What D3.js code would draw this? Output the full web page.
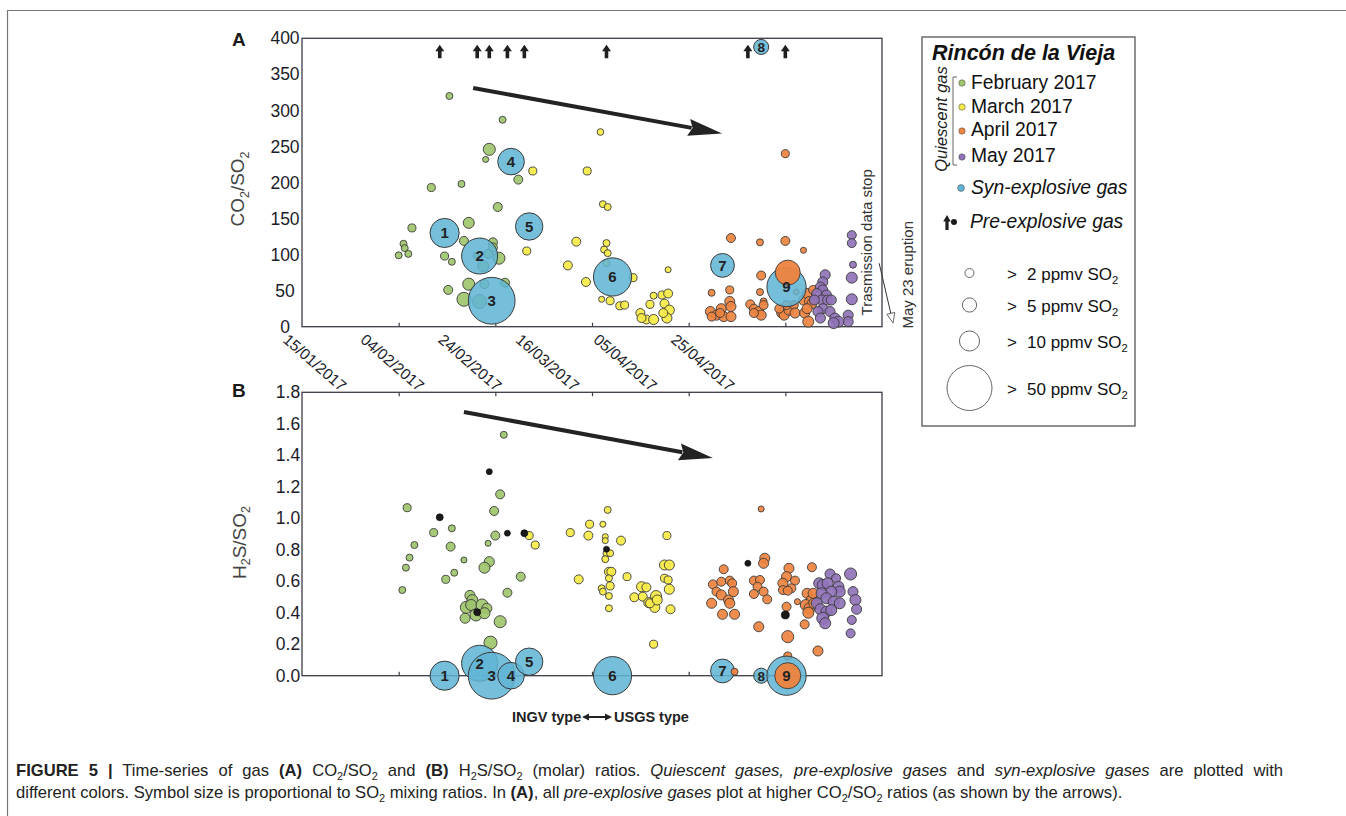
<!DOCTYPE html>
<html>
<head>
<meta charset="utf-8">
<script src="https://cdn.jsdelivr.net/npm/d3@7"></script>
<style>
  body { margin: 0; background: #fff; }
  text { font-family: "Liberation Sans", Arial, sans-serif; white-space: pre; }
</style>
</head>
<body>
<div id="wrapper"></div>
<script>
// ---------- DATA ----------
// quiescent samples: [date, ratio, SO2 ppmv]
const febA = [
  ["2017-02-14 12",320,1.2],["2017-02-25 12",287,1.2],["2017-02-22 18",246,3.6],["2017-02-22 00",232,0.9],
  ["2017-02-28 18",204,2],["2017-02-10 18",193,1.6],["2017-02-17 00",198,1.2],["2017-02-24 12",166,2],
  ["2017-02-06 18",137,1.6],["2017-02-18 12",144,3],["2017-02-17 12",119,2],["2017-02-23 12",117,2],
  ["2017-02-23 12",110,2],["2017-02-05 00",115,1.2],["2017-02-05 06",109,1.2],["2017-02-04 00",99,1.2],
  ["2017-02-06 00",101,1.2],["2017-02-13 12",98,1.6],["2017-02-15 00",90,1.2],["2017-02-22 12",101,2],
  ["2017-02-24 18",95,3.6],["2017-02-21 12",84,3],["2017-02-20 00",99,0.9],["2017-02-18 12",59,3.6],
  ["2017-02-14 06",51,2],["2017-02-26 00",61,2],["2017-02-21 18",59,2],["2017-02-17 12",38,4.8],
  ["2017-02-20 18",35,4.8]
]
const marA = [
  ["2017-03-03 18",216,1.6],["2017-03-02 12",105,1.6],["2017-03-17 18",270,1.1],["2017-03-15 00",216,1.6],
  ["2017-03-18 06",170,1.2],["2017-03-19 06",166,1.2],["2017-03-12 18",118,2],["2017-03-19 00",116,1.2],
  ["2017-03-18 12",107,1.2],["2017-03-19 06",102,1.2],["2017-03-11 00",85,2],["2017-03-14 18",62,2],
  ["2017-03-24 12",68,1.6],["2017-03-19 00",88,1.2],["2017-03-18 00",38,0.9],["2017-03-19 18",36,1.6],
  ["2017-03-21 18",29,1.6],["2017-03-22 18",30,1.6],["2017-03-31 18",79,0.9],["2017-03-26 00",19,2],
  ["2017-03-27 06",10,2],["2017-03-28 18",10,2.5],["2017-03-26 06",12,2],["2017-03-28 00",31,1.6],
  ["2017-03-28 18",43,1.2],["2017-03-30 12",44,1.6],["2017-03-31 18",46,2],["2017-03-31 00",32,2],
  ["2017-04-01 00",23,2.5],["2017-03-31 12",12,2.5],["2017-03-30 18",19,2]
]
const aprA = [
  ["2017-04-25 00",240,1.6],["2017-04-13 18",123,2],["2017-04-19 18",117,1.2],["2017-04-25 00",119,2],
  ["2017-04-28 18",106,0.9],["2017-04-20 00",71,2],["2017-04-13 12",51,1.6],["2017-04-09 18",47,1.2],
  ["2017-04-19 18",48,1.2],["2017-04-20 12",35,1.2],["2017-04-27 06",48,0.9],
  ["2017-04-09 12",21,2.5],["2017-04-10 18",16,2.5],["2017-04-11 18",25,2.5],["2017-04-13 12",35,2.5],
  ["2017-04-13 18",28,2.5],["2017-04-12 06",14,2.5],["2017-04-13 18",14,2.5],["2017-04-09 18",14,2],
  ["2017-04-11 12",19,2],
  ["2017-04-17 18",31,2],["2017-04-18 12",25,2],["2017-04-19 12",21,2.5],["2017-04-20 00",16,2.5],
  ["2017-04-18 12",19,2],["2017-04-20 12",30,2],
  ["2017-04-24 06",19,2.5],["2017-04-24 18",16,2.5],["2017-04-25 18",23,2.5],["2017-04-26 18",30,2],
  ["2017-04-27 00",19,2.5],["2017-04-25 06",30,2],["2017-04-23 18",25,2],
  ["2017-04-28 18",37,2.5],["2017-04-29 12",46,2.5],["2017-04-30 00",35,2.5],["2017-04-29 00",19,2.5],
  ["2017-04-29 18",7,3],["2017-04-30 18",51,2],["2017-04-30 12",32,2.5],["2017-04-29 12",25,2.5]
]
const mayA = [
  ["2017-05-08 18",127,2],["2017-05-08 18",116,2],["2017-05-09 00",86,1.2],["2017-05-08 18",68,3],
  ["2017-05-08 18",38,3],["2017-05-08 00",16,2.5],["2017-05-08 00",7,2.5],["2017-05-03 06",72,2.5],
  ["2017-05-02 18",62,2.5],["2017-05-02 06",55,2.5],["2017-05-02 18",51,2.5],["2017-05-03 12",44,2.5],
  ["2017-05-01 12",46,2.5],["2017-05-02 12",37,2.5],["2017-05-03 18",37,2.5],["2017-05-04 12",37,2.5],
  ["2017-05-02 18",25,2.5],["2017-05-04 06",21,2.5],["2017-05-05 06",12,2.5],["2017-05-06 00",7,3],
  ["2017-05-05 00",5,3],["2017-05-01 18",21,2.5],["2017-05-02 06",12,2.5],["2017-05-01 00",37,2.5]
]
const febB = [
  ["2017-02-25 18",1.53,1.2],["2017-02-05 18",1.067,1.6],["2017-02-25 00",1.152,2],["2017-02-23 18",1.046,2],
  ["2017-02-11 06",0.909,1.6],["2017-02-15 00",0.936,1.2],["2017-02-24 00",0.89,2],["2017-02-07 06",0.83,1.2],
  ["2017-02-14 18",0.82,2],["2017-02-22 12",0.841,0.9],["2017-02-06 06",0.75,1.2],["2017-02-17 12",0.735,0.9],
  ["2017-02-05 12",0.686,1.2],["2017-02-22 18",0.724,2.5],["2017-02-21 18",0.686,3],["2017-02-15 12",0.654,1.2],
  ["2017-02-13 18",0.612,1.6],["2017-03-01 06",0.629,2],["2017-02-04 18",0.544,1.2],["2017-02-26 12",0.527,2],
  ["2017-02-18 18",0.51,2.5],["2017-02-19 06",0.48,3],["2017-02-18 00",0.434,3.6],["2017-02-19 00",0.449,3],
  ["2017-02-21 06",0.449,3.6],["2017-02-22 06",0.428,2.5],["2017-02-20 00",0.386,3.6],["2017-02-17 18",0.365,2.5],
  ["2017-02-21 18",0.397,3],["2017-02-25 00",0.343,3.6],["2017-02-23 00",0.21,4.2]
]
const marB = [
  ["2017-03-03 00",0.89,1.6],["2017-03-04 06",0.83,1.6],["2017-03-19 06",1.053,1.2],["2017-03-15 12",0.962,1.6],
  ["2017-03-18 06",0.962,0.9],["2017-03-11 12",0.909,1.6],["2017-03-15 06",0.89,2],["2017-03-18 18",0.883,0.9],
  ["2017-03-18 18",0.858,0.9],["2017-03-22 00",0.858,2],["2017-03-31 12",0.89,1.6],["2017-03-19 00",0.778,1.2],
  ["2017-03-19 18",0.778,1.2],["2017-03-18 18",0.74,1.2],["2017-03-19 12",0.66,2],["2017-03-20 00",0.66,2],
  ["2017-03-23 06",0.629,1.6],["2017-03-13 06",0.612,2],["2017-03-19 12",0.619,1.2],["2017-03-31 00",0.703,2.5],
  ["2017-04-01 00",0.703,2.5],["2017-03-31 00",0.619,1.6],["2017-03-31 18",0.608,1.6],["2017-04-01 00",0.549,2.5],
  ["2017-03-18 00",0.555,1.2],["2017-03-19 18",0.57,1.6],["2017-03-18 06",0.534,1.2],["2017-03-19 12",0.506,1.2],
  ["2017-03-26 06",0.565,2.5],["2017-03-27 06",0.561,2],["2017-03-24 18",0.498,2],["2017-03-26 12",0.502,2],
  ["2017-03-27 18",0.464,2.5],["2017-03-29 06",0.506,3],["2017-03-29 00",0.434,2.5],["2017-03-28 00",0.46,2],
  ["2017-03-29 12",0.481,2.5],["2017-03-19 12",0.428,1.2],["2017-04-01 06",0.422,2],["2017-03-28 18",0.2,1.6]
]
const aprB = [
  ["2017-04-20 00",1.059,0.9],["2017-04-20 18",0.746,2.5],["2017-04-20 12",0.714,2.5],["2017-04-12 06",0.676,2],
  ["2017-04-10 00",0.58,2],["2017-04-11 18",0.597,2],["2017-04-13 12",0.604,2],["2017-04-14 00",0.587,2],
  ["2017-04-10 18",0.534,2],["2017-04-09 18",0.46,2.5],["2017-04-11 18",0.513,2.5],["2017-04-13 06",0.481,2.5],
  ["2017-04-14 06",0.534,2.5],["2017-04-13 12",0.46,2.5],["2017-04-12 00",0.39,2.5],["2017-04-14 12",0.39,2.5],
  ["2017-04-18 12",0.604,2],["2017-04-19 18",0.608,2],["2017-04-19 06",0.565,2],["2017-04-18 12",0.519,2],
  ["2017-04-20 12",0.534,2],["2017-04-21 06",0.485,2],["2017-04-19 12",0.311,2.5],
  ["2017-04-25 18",0.682,2.5],["2017-04-25 06",0.629,2.5],["2017-04-27 00",0.604,2],["2017-04-24 12",0.587,2.5],
  ["2017-04-26 06",0.555,2],["2017-04-24 12",0.544,2],["2017-04-25 12",0.54,2],["2017-04-30 12",0.689,2],
  ["2017-04-25 06",0.438,2],["2017-04-25 12",0.248,3.6],["2017-04-27 12",0.47,0.9],["2017-04-29 00",0.326,2],
  ["2017-05-01 18",0.157,2.5],["2017-04-29 12",0.523,2.5],["2017-04-30 12",0.481,3],["2017-04-29 06",0.449,3],
  ["2017-04-30 00",0.428,3],["2017-05-01 00",0.46,3],["2017-04-30 18",0.523,2.5],["2017-04-29 18",0.4,3],
  ["2017-04-25 12",0.125,1.6]
]
const mayB = [
  ["2017-05-08 12",0.646,3.6],["2017-05-04 06",0.646,2.5],["2017-05-05 12",0.619,2],["2017-05-02 00",0.587,3],
  ["2017-05-02 18",0.576,3],["2017-05-03 18",0.587,3],["2017-05-06 00",0.565,3],["2017-05-06 06",0.534,3],
  ["2017-05-04 12",0.534,3],["2017-05-02 12",0.523,3],["2017-05-03 12",0.492,3],["2017-05-05 00",0.47,3],
  ["2017-05-06 06",0.46,3],["2017-05-01 12",0.46,3],["2017-05-02 06",0.422,3],["2017-05-03 12",0.407,3],
  ["2017-05-04 12",0.417,3],["2017-05-02 18",0.365,3.6],["2017-05-03 06",0.333,3],["2017-05-09 00",0.534,2.5],
  ["2017-05-09 12",0.481,3],["2017-05-09 18",0.422,2.5],["2017-05-08 18",0.354,2],["2017-05-08 12",0.269,2]
]
// April samples taken with syn-explosive events (plotted above the blue symbols)
const aprSynA = [["2017-04-25 12",75,15.4]]
const aprSynB = [["2017-04-25 12",0,16.7],["2017-04-14 12",0.025,1.2]]

// syn-explosive gas (numbered events)
const synLabels = ["1","2","3","4","5","6","7","8","9"]
const synDates = ["2017-02-13 12","2017-02-20 18","2017-02-23 06","2017-02-27 06","2017-03-03 00",
                  "2017-03-20 06","2017-04-12 00","2017-04-20 00","2017-04-25 06"]
const synCO2 = [130, 98, 36, 229, 139, 69, 85, 388, 55]
const synH2S = [0, 0.079, 0, 0, 0.089, 0, 0.03, 0, 0]
const synSO2 = [21, 32, 54, 17.5, 18.5, 36, 14, 5.6, 38]

// pre-explosive gas (CO2/SO2 above 400 -> arrows in A)
const preDates = ["2017-02-12 12","2017-02-20 06","2017-02-22 18","2017-02-26 12","2017-03-02 00",
                  "2017-03-19 00","2017-04-17 06","2017-04-25 00"]
const preH2S = [1.006, 0.403, 1.296, 0.905, 0.905, 0.803, 0.714, 0.386]
const preSO2 = [1.2, 1.2, 0.9, 0.9, 1.2, 0.9, 0.9, 1.6]

// trend arrows [start, end] as [date, ratio]
const trendA = [["2017-02-19 10",331],["2017-04-11 22",268]]
const trendB = [["2017-02-17 12",1.675],["2017-04-10 00",1.383]]

const xTickLabels = ["15/01/2017","04/02/2017","24/02/2017","16/03/2017","05/04/2017","25/04/2017"]
const yTicksA = [0,50,100,150,200,250,300,350,400]
const yTicksB = [0,0.2,0.4,0.6,0.8,1.0,1.2,1.4,1.6,1.8]
const monthNames = ["February 2017","March 2017","April 2017","May 2017"]
const sizeLegend = [2,5,10,50]

// ---------- SETUP ----------
const parseTime = d3.timeParse("%Y-%m-%d %H")
const parseTick = d3.timeParse("%d/%m/%Y")

const dimensions = { width: 1346, height: 816 }
const plot = { left: 302, right: 882 }
const panelA = { top: 38.3, bottom: 326.7 }
const panelB = { top: 392.3, bottom: 675.7 }

const colors = {
  feb: "#9fc66c", mar: "#f7ea47", apr: "#ee8340", may: "#9073b8",
  syn: "#60b5d5", pre: "#1a1a1a", stroke: "#3a3a3a", axis: "#3c3c46", tick: "#1c1c2a"
}

const wrapper = d3.select("#wrapper").append("svg")
  .attr("width", dimensions.width)
  .attr("height", dimensions.height)

const xScale = d3.scaleTime()
  .domain([parseTime("2017-01-15 00"), parseTime("2017-05-15 00")])
  .range([plot.left, plot.right])
// tick labels of A are set on a compressed spacing in the original
const xLabelScale = d3.scaleTime()
  .domain(xScale.domain())
  .range([plot.left - 13, plot.left - 13 + 120 * 3.88])

const yA = d3.scaleLinear().domain([0, 400]).range([panelA.bottom, panelA.top])
const yB = d3.scaleLinear().domain([0, 1.8]).range([panelB.bottom, panelB.top])
const rScale = d3.scaleSqrt().domain([0, 50]).range([0, 22.5])

const xTicks = xTickLabels.map(parseTick)

// rich text helper: parts = [text, style]
function rich(sel, parts, f) {
  let shifted = 0
  parts.forEach(([t, s]) => {
    const ts = sel.append("tspan").text(t)
    if (s === "b") ts.attr("font-weight", "bold")
    if (s === "i") ts.attr("font-style", "italic")
    if (s === "sub") {
      ts.attr("font-size", f * 0.66).attr("dy", f * 0.26)
      shifted = f * 0.26
    } else if (shifted) {
      ts.attr("dy", -shifted)
      shifted = 0
    }
  })
  return sel
}

// ---------- FIGURE FRAME ----------
wrapper.append("line").attr("x1", 7).attr("x2", dimensions.width).attr("y1", 10.5).attr("y2", 10.5)
  .attr("stroke", "#777").attr("stroke-width", 1.2)
wrapper.append("line").attr("x1", 7.5).attr("x2", 7.5).attr("y1", 10).attr("y2", dimensions.height)
  .attr("stroke", "#777").attr("stroke-width", 1.2)

// ---------- PANELS ----------
function drawFrame(panel, yScale, ticks, fmt, labelX, topTicks) {
  const g = wrapper.append("g")
  g.append("rect")
    .attr("x", plot.left).attr("y", panel.top)
    .attr("width", plot.right - plot.left).attr("height", panel.bottom - panel.top)
    .attr("fill", "none").attr("stroke", colors.axis).attr("stroke-width", 1.3)

  const xb = g.append("g").attr("transform", `translate(0,${panel.bottom})`)
    .call(d3.axisBottom(xScale).tickValues(xTicks.slice(1)).tickSizeInner(-4).tickSizeOuter(0).tickFormat(""))
  xb.select(".domain").remove()
  xb.selectAll("line").attr("stroke", colors.axis).attr("stroke-width", 1.2)

  if (topTicks) {
    const xt = g.append("g").attr("transform", `translate(0,${panel.top})`)
      .call(d3.axisTop(xScale).tickValues(xTicks.slice(1)).tickSizeInner(-4).tickSizeOuter(0).tickFormat(""))
    xt.select(".domain").remove()
    xt.selectAll("line").attr("stroke", colors.axis).attr("stroke-width", 1.2)
  }

  const ya = g.append("g").attr("transform", `translate(${plot.left},0)`)
    .call(d3.axisLeft(yScale).tickValues(ticks).tickSize(0).tickFormat(fmt))
  ya.select(".domain").remove()
  ya.selectAll("text")
    .attr("x", labelX - plot.left).attr("text-anchor", "middle")
    .attr("font-size", 17.5).attr("font-family", "Liberation Sans, Arial, sans-serif")
    .attr("fill", colors.tick)
  return g
}

function drawPoints(g, data, yScale, color, opacity = 0.92) {
  g.append("g").selectAll("circle").data(data).join("circle")
    .attr("cx", d => xScale(parseTime(d[0])))
    .attr("cy", d => yScale(d[1]))
    .attr("r", d => rScale(d[2]))
    .attr("fill", color).attr("fill-opacity", opacity)
    .attr("stroke", colors.stroke).attr("stroke-width", 0.9)
}

const synData = synLabels.map((l, i) => ({
  label: l, date: parseTime(synDates[i]), co2: synCO2[i], h2s: synH2S[i], so2: synSO2[i]
}))

function drawSyn(g, yScale, key) {
  g.append("g").selectAll("circle").data(synData).join("circle")
    .attr("cx", d => xScale(d.date))
    .attr("cy", d => yScale(d[key]))
    .attr("r", d => rScale(d.so2))
    .attr("fill", colors.syn).attr("fill-opacity", 0.86)
    .attr("stroke", colors.stroke).attr("stroke-width", 1)
}

function drawSynLabels(g, yScale, key) {
  g.append("g").selectAll("text").data(synData).join("text")
    .attr("x", d => xScale(d.date))
    .attr("y", d => yScale(d[key]))
    .attr("dy", "0.36em")
    .attr("text-anchor", "middle")
    .attr("font-size", d => Math.min(15, rScale(d.so2) * 1.8))
    .attr("font-weight", "bold")
    .attr("fill", "#222")
    .text(d => d.label)
}

function trendArrow(g, pts, yScale) {
  const x0 = xScale(parseTime(pts[0][0])), y0 = yScale(pts[0][1])
  const x1 = xScale(parseTime(pts[1][0])), y1 = yScale(pts[1][1])
  const a = Math.atan2(y1 - y0, x1 - x0)
  const headLen = 34, headW = 8.5
  const bx = x1 - headLen * Math.cos(a), by = y1 - headLen * Math.sin(a)
  g.append("line").attr("x1", x0).attr("y1", y0)
    .attr("x2", bx + 3 * Math.cos(a)).attr("y2", by + 3 * Math.sin(a))
    .attr("stroke", "#232323").attr("stroke-width", 4)
  g.append("path")
    .attr("d", `M${x1},${y1}L${bx - headW * Math.sin(a)},${by + headW * Math.cos(a)}` +
               `L${bx + 4 * Math.cos(a)},${by + 4 * Math.sin(a)}` +
               `L${bx + headW * Math.sin(a)},${by - headW * Math.cos(a)}Z`)
    .attr("fill", "#232323")
}

function upArrow(g, x, t, w = 4.5, h = 13.5, s = 1.8) {
  g.append("path")
    .attr("d", `M${x},${t}L${x - w},${t + 6.5}L${x - s},${t + 6.5}L${x - s},${t + h}` +
               `L${x + s},${t + h}L${x + s},${t + 6.5}L${x + w},${t + 6.5}Z`)
    .attr("fill", "#1f1f1f")
}

// ----- Panel A -----
const gA = drawFrame(panelA, yA, yTicksA, d3.format("d"), 285, false)
drawPoints(gA, febA, yA, colors.feb)
drawPoints(gA, marA, yA, colors.mar)
drawPoints(gA, aprA, yA, colors.apr)
drawPoints(gA, mayA, yA, colors.may)
drawSyn(gA, yA, "co2")
drawPoints(gA, aprSynA, yA, colors.apr, 0.95)
drawSynLabels(gA, yA, "co2")
preDates.forEach(d => upArrow(gA, xScale(parseTime(d)), yA(400) + 6.5))
trendArrow(gA, trendA, yA)

// rotated date labels under A
gA.append("g").selectAll("text").data(xTicks).join("text")
  .attr("transform", d => `translate(${xLabelScale(d) - 7},${panelA.bottom + 14.5}) rotate(41)`)
  .attr("font-size", 15.5).attr("fill", colors.tick)
  .text((d, i) => xTickLabels[i])

// axis title A
rich(gA.append("text")
  .attr("transform", `translate(244,189) rotate(-90)`)
  .attr("text-anchor", "middle").attr("font-size", 19).attr("fill", "#444"),
  [["CO"],["2","sub"],["/SO"],["2","sub"]], 19)

gA.append("text").attr("x", 232).attr("y", 46).attr("font-size", 19)
  .attr("font-weight", "bold").attr("fill", "#1a1a1a").text("A")

// transmission stop / eruption annotation
gA.append("text")
  .attr("transform", `translate(${xScale(parseTime("2017-05-13 00"))},${yA(117)}) rotate(-90)`)
  .attr("text-anchor", "middle").attr("font-size", 15).attr("fill", "#333")
  .text("Trasmission data stop")
{
  const x0 = xScale(parseTime("2017-05-14 10")), y0 = yA(88)
  const x1 = xScale(parseTime("2017-05-17 07")), y1 = yA(5)
  const a = Math.atan2(y1 - y0, x1 - x0)
  const hl = 10, hw = 4
  const bx = x1 - hl * Math.cos(a), by = y1 - hl * Math.sin(a)
  gA.append("line").attr("x1", x0).attr("y1", y0).attr("x2", bx).attr("y2", by)
    .attr("stroke", "#333").attr("stroke-width", 1)
  gA.append("path")
    .attr("d", `M${x1},${y1}L${bx - hw * Math.sin(a)},${by + hw * Math.cos(a)}L${bx + hw * Math.sin(a)},${by - hw * Math.cos(a)}Z`)
    .attr("fill", "#fff").attr("stroke", "#555").attr("stroke-width", 0.9)
}
gA.append("text")
  .attr("transform", `translate(${xScale(parseTime("2017-05-21 10"))},${yA(72)}) rotate(-90)`)
  .attr("text-anchor", "middle").attr("font-size", 15).attr("fill", "#333")
  .text("May 23 eruption")

// ----- Panel B -----
const gB = drawFrame(panelB, yB, yTicksB, d3.format(".1f"), 288, true)
drawPoints(gB, febB, yB, colors.feb)
drawPoints(gB, marB, yB, colors.mar)
drawPoints(gB, aprB, yB, colors.apr)
drawPoints(gB, mayB, yB, colors.may)
gB.append("g").selectAll("circle").data(preDates).join("circle")
  .attr("cx", d => xScale(parseTime(d)))
  .attr("cy", (d, i) => yB(preH2S[i]))
  .attr("r", (d, i) => rScale(preSO2[i]))
  .attr("fill", colors.pre).attr("stroke", "#000").attr("stroke-width", 0.6)
drawSyn(gB, yB, "h2s")
drawPoints(gB, aprSynB, yB, colors.apr, 0.95)
drawSynLabels(gB, yB, "h2s")
trendArrow(gB, trendB, yB)

rich(gB.append("text")
  .attr("transform", `translate(245.5,542.5) rotate(-90)`)
  .attr("text-anchor", "middle").attr("font-size", 19).attr("fill", "#444"),
  [["H"],["2","sub"],["S/SO"],["2","sub"]], 19)

gB.append("text").attr("x", 232).attr("y", 397).attr("font-size", 19)
  .attr("font-weight", "bold").attr("fill", "#1a1a1a").text("B")

// INGV / USGS note
gB.append("text").attr("x", 512).attr("y", 722).attr("font-size", 14.5)
  .attr("font-weight", "bold").attr("fill", "#222").text("INGV type")
gB.append("text").attr("x", 614).attr("y", 722).attr("font-size", 14.5)
  .attr("font-weight", "bold").attr("fill", "#222").text("USGS type")
gB.append("path")
  .attr("d", "M582,717 L589,713.5 L589,716 L605,716 L605,713.5 L612,717 L605,720.5 L605,718 L589,718 L589,720.5 Z")
  .attr("fill", "#222")

// ---------- LEGEND ----------
const legend = { x: 922, y: 37, w: 213, h: 389 }
const lg = wrapper.append("g").attr("transform", `translate(${legend.x},${legend.y})`)
lg.append("rect").attr("width", legend.w).attr("height", legend.h)
  .attr("fill", "#fff").attr("stroke", "#555").attr("stroke-width", 1.3)
lg.append("text").attr("x", 10).attr("y", 23).attr("font-size", 21.5)
  .attr("font-weight", "bold").attr("font-style", "italic").attr("fill", "#111")
  .text("Rincón de la Vieja")

const monthColors = [colors.feb, colors.mar, colors.apr, colors.may]
const monthDotY = [46, 70, 94, 120]
const monthTextY = [52, 76, 99, 125]
monthNames.forEach((m, i) => {
  lg.append("circle").attr("cx", 40).attr("cy", monthDotY[i]).attr("r", 3.2)
    .attr("fill", monthColors[i]).attr("stroke", "#555").attr("stroke-width", 0.6)
  lg.append("text").attr("x", 49).attr("y", monthTextY[i]).attr("font-size", 19.3)
    .attr("fill", "#111").text(m)
})
lg.append("path").attr("d", "M35,40 L31,40 L31,128 L35,128")
  .attr("fill", "none").attr("stroke", "#666").attr("stroke-width", 1)
lg.append("text").attr("transform", "translate(25,82) rotate(-90)")
  .attr("text-anchor", "middle").attr("font-size", 16.5).attr("font-style", "italic")
  .attr("fill", "#222").text("Quiescent gas")

lg.append("circle").attr("cx", 39).attr("cy", 151).attr("r", 3.4)
  .attr("fill", colors.syn).attr("stroke", "#555").attr("stroke-width", 0.6)
lg.append("text").attr("x", 49).attr("y", 157).attr("font-size", 19.3)
  .attr("font-style", "italic").attr("fill", "#111").text("Syn-explosive gas")

upArrow(lg, 25, 178, 3.8, 15, 1.6)
lg.append("circle").attr("cx", 32).attr("cy", 185).attr("r", 3).attr("fill", colors.pre)
lg.append("text").attr("x", 48).attr("y", 191).attr("font-size", 19.3)
  .attr("font-style", "italic").attr("fill", "#111").text("Pre-explosive gas")

const sizeY = [236, 268, 304, 351]
sizeLegend.forEach((s, i) => {
  lg.append("circle").attr("cx", 47.5).attr("cy", sizeY[i]).attr("r", rScale(s))
    .attr("fill", "none").attr("stroke", "#666").attr("stroke-width", 1)
  lg.append("text").attr("x", 85).attr("y", sizeY[i] + 6.5).attr("font-size", 17)
    .attr("fill", "#111").text(">")
  rich(lg.append("text").attr("x", 105).attr("y", sizeY[i] + 6.5).attr("font-size", 17).attr("fill", "#111"),
    [[`${s} ppmv SO`],["2","sub"]], 17)
})

// ---------- CAPTION ----------
const capSize = 16.6
const cap = wrapper.append("g").attr("fill", "#222")
const line1Parts = [["FIGURE 5 |","b"],[" Time-series of gas "],["(A)","b"],[" CO"],["2","sub"],["/SO"],["2","sub"],
   [" and "],["(B)","b"],[" H"],["2","sub"],["S/SO"],["2","sub"],[" (molar) ratios. "],
   ["Quiescent gases, pre-explosive gases","i"],[" and "],["syn-explosive gases","i"],
   [" are plotted with"]]
const line1 = rich(cap.append("text").attr("x", 16).attr("y", 776).attr("font-size", capSize), line1Parts, capSize)
// first line is justified to the caption width
const nSpaces = line1Parts.map(p => p[0]).join("").split(" ").length - 1
const gap = (1283 - 16 - line1.node().getComputedTextLength()) / nSpaces
line1.attr("word-spacing", gap)
rich(cap.append("text").attr("x", 16).attr("y", 798).attr("font-size", capSize),
  [["different colors. Symbol size is proportional to SO"],["2","sub"],[" mixing ratios. In "],
   ["(A)","b"],[", all "],["pre-explosive gases","i"],[" plot at higher CO"],["2","sub"],["/SO"],
   ["2","sub"],[" ratios (as shown by the arrows)."]], capSize)
</script>
</body>
</html>
